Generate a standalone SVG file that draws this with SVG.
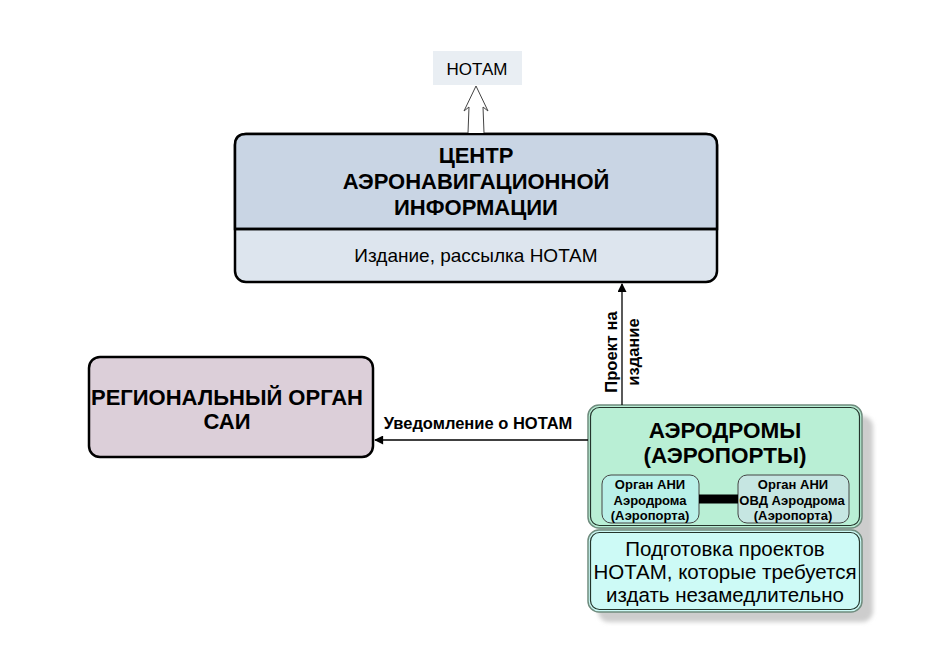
<svg xmlns="http://www.w3.org/2000/svg" width="932" height="658" viewBox="0 0 932 658">
<style>
text{font-family:"Liberation Sans",Arial,sans-serif;fill:#000;text-anchor:middle}
.b{font-weight:bold}
.main{stroke:#000;stroke-width:2.5}
.sub{stroke:#444;stroke-width:1}
.conn{stroke:#000;stroke-width:1.3;fill:none}
</style>
<defs>
<marker id="ah" viewBox="0 0 10 10" refX="9" refY="5" markerWidth="10" markerHeight="9" markerUnits="userSpaceOnUse" orient="auto">
<path d="M0,0 L10,5 L0,10 z" fill="#000"/>
</marker>
<filter id="blur" x="-10%" y="-10%" width="120%" height="120%"><feGaussianBlur stdDeviation="2"/></filter>
</defs>
<rect width="932" height="658" fill="#fff"/>

<g id="notam">
<rect x="433" y="51" width="89" height="34" fill="#e9eef3"/>
<text x="477" y="75" font-size="17">НОТАМ</text>
</g>

<g id="center">
<rect x="235" y="134" width="482" height="148" rx="11" fill="#dde5ee" class="main"/>
<path d="M235,229 V145 Q235,134 246,134 H706 Q717,134 717,145 V229 Z" fill="#c9d5e4" class="main"/>
<path d="M235,229 H717" class="main"/>
<text class="b" x="476" y="163" font-size="22">ЦЕНТР</text>
<text class="b" x="476" y="189" font-size="22">АЭРОНАВИГАЦИОННОЙ</text>
<text class="b" x="476" y="215" font-size="22">ИНФОРМАЦИИ</text>
<text x="476" y="262" font-size="19">Издание, рассылка НОТАМ</text>
</g>

<g id="regional">
<rect x="89" y="357" width="284" height="100" rx="11" fill="#dccfd9" class="main"/>
<text class="b" x="227" y="405" font-size="22">РЕГИОНАЛЬНЫЙ ОРГАН</text>
<text class="b" x="227" y="429" font-size="22">САИ</text>
</g>

<g id="aerodromes">
<rect x="598" y="416" width="275" height="206" rx="11" fill="#cdcdcd" filter="url(#blur)"/>
<rect x="588" y="405" width="274" height="123" rx="11" fill="#b9efd5" stroke="#6f8c7e" stroke-width="1.5"/>
<rect x="590.5" y="407.5" width="269" height="118" rx="9" fill="none" stroke="#24352c" stroke-width="1.2"/>
<text class="b" x="725" y="438" font-size="22.5">АЭРОДРОМЫ</text>
<text class="b" x="725" y="463" font-size="22.5">(АЭРОПОРТЫ)</text>
<g id="ani">
<rect x="602" y="475" width="97" height="48" rx="9" fill="#b9f0e8" class="sub"/>
<text class="b" x="650" y="489" font-size="13">Орган АНИ</text>
<text class="b" x="650" y="505" font-size="13">Аэродрома</text>
<text class="b" x="650" y="520" font-size="13">(Аэропорта)</text>
</g>
<g id="ani-ovd">
<rect x="738" y="475" width="111" height="48" rx="9" fill="#c6e6e2" class="sub"/>
<text class="b" x="793" y="489" font-size="13">Орган АНИ</text>
<text class="b" x="792" y="505" font-size="13">ОВД Аэродрома</text>
<text class="b" x="793" y="520" font-size="13">(Аэропорта)</text>
</g>
</g>

<g id="prep">
<rect x="588" y="530" width="274" height="82" rx="11" fill="#cdfaf6" stroke="#6f8c7e" stroke-width="1.5"/>
<rect x="590.5" y="532.5" width="269" height="77" rx="9" fill="none" stroke="#24352c" stroke-width="1.2"/>
<text x="725" y="556" font-size="20.5">Подготовка проектов</text>
<text x="725" y="579" font-size="20.5">НОТАМ, которые требуется</text>
<text x="725" y="602" font-size="20.5">издать незамедлительно</text>
</g>

<g id="connectors">
<path d="M468,133 L469,107 L464,111 L476,86 L488,111 L483,107 L484,133" fill="#fff" stroke="#444" stroke-width="1"/>
<path d="M622,405 V284" class="conn" marker-end="url(#ah)"/>
<path d="M588,440 H375" class="conn" marker-end="url(#ah)"/>
<path d="M699,499 H738" stroke="#000" stroke-width="9"/>
<text class="b" x="478" y="429" font-size="16.5">Уведомление о НОТАМ</text>
<text class="b" font-size="16.5" transform="translate(617,352) rotate(-90)">Проект на</text>
<text class="b" font-size="16.5" transform="translate(639,352) rotate(-90)">издание</text>
</g>
</svg>
